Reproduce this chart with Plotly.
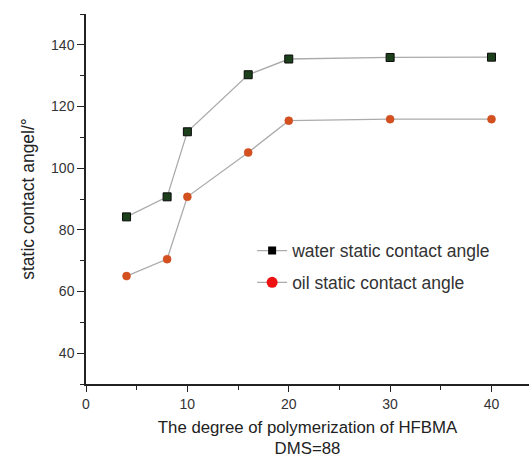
import plotly.graph_objects as go

# Degree of polymerization of HFBMA (DMS=88)
dp = [4, 8, 10, 16, 20, 30, 40]
water_angle = [84.2, 90.7, 111.8, 130.3, 135.4, 135.9, 136.0]
oil_angle = [65.0, 70.5, 90.7, 105.1, 115.4, 115.9, 115.9]

x_ticks = [0, 10, 20, 30, 40]
y_ticks = [40, 60, 80, 100, 120, 140]

series_names = ["water static contact angle", "oil static contact angle"]

FONT = "Liberation Sans, Arial, sans-serif"
LINE_GRAY = "#ababab"

fig = go.Figure()

# data traces (kept out of the legend)
fig.add_trace(go.Scatter(
    x=dp, y=water_angle, mode="lines+markers", showlegend=False,
    line=dict(color=LINE_GRAY, width=1.3),
    marker=dict(symbol="square", size=8, color="#1c3f1c",
                line=dict(color="#0a0a0a", width=1)),
))
fig.add_trace(go.Scatter(
    x=dp, y=oil_angle, mode="lines+markers", showlegend=False,
    line=dict(color=LINE_GRAY, width=1.3),
    marker=dict(symbol="circle", size=8, color="#d4501f",
                line=dict(color="#c8481a", width=0.5)),
))

# legend entries
fig.add_trace(go.Scatter(
    x=[None], y=[None], mode="lines+markers", name=series_names[0],
    legendgroup="w",
    line=dict(color=LINE_GRAY, width=1.3),
    marker=dict(symbol="square", size=8, color="#000000"),
))
fig.add_trace(go.Scatter(
    x=[None], y=[None], mode="lines+markers", name=series_names[1],
    legendgroup="o",
    line=dict(color=LINE_GRAY, width=1.3),
    marker=dict(symbol="circle", size=11, color="#ee1111"),
))

fig.update_layout(
    width=529, height=459,
    margin=dict(l=86, r=0, t=14, b=75),
    paper_bgcolor="white", plot_bgcolor="white",
    font=dict(family=FONT, color="#333333", size=14),
    legend=dict(
        x=0.375, y=0.409, xanchor="left", yanchor="top",
        bgcolor="rgba(0,0,0,0)", font=dict(size=17.5, color="#333333"),
        tracegroupgap=6, itemwidth=30,
    ),
    xaxis=dict(
        range=[0, 43.7], tickvals=x_ticks, ticks="outside", ticklen=6,
        tickwidth=1.3, tickcolor="#222222",
        showline=True, linecolor="#222222", linewidth=2,
        showgrid=False, zeroline=False,
        minor=dict(dtick=5, tick0=0, ticks="outside", ticklen=4,
                   tickcolor="#222222", tickwidth=1.2),
        tickfont=dict(size=14, color="#333333"),
        title=dict(text="The degree of polymerization of HFBMA<br>DMS=88",
                   font=dict(size=16.8, color="#222222"), standoff=10),
    ),
    yaxis=dict(
        range=[30, 150], tickvals=y_ticks, ticks="outside", ticklen=7,
        tickwidth=1.3, tickcolor="#222222",
        showline=True, linecolor="#222222", linewidth=1.5,
        showgrid=False, zeroline=False,
        minor=dict(dtick=10, tick0=0, ticks="outside", ticklen=4,
                   tickcolor="#222222", tickwidth=1.2),
        tickfont=dict(size=14, color="#333333"),
        title=dict(text="static contact angel/°",
                   font=dict(size=17.5, color="#222222"), standoff=12),
    ),
)

fig.write_html("out.html")
